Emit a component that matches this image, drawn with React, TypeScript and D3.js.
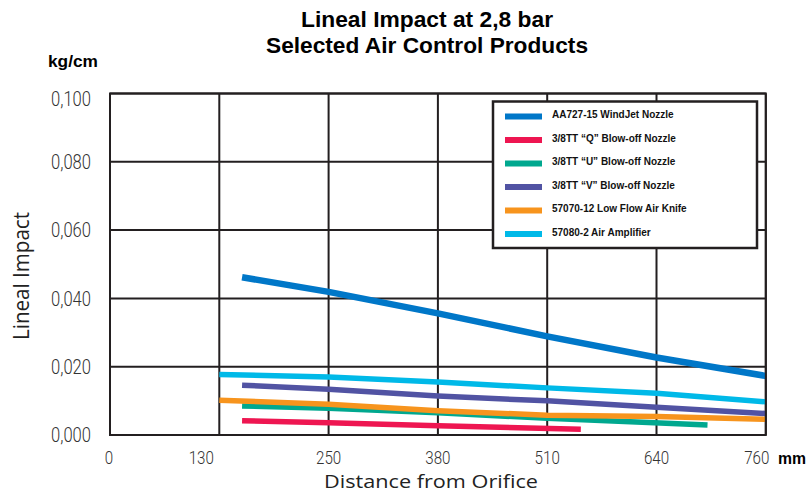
import React from "react";
import * as d3 from "d3";

const xTickValues = [0, 130, 250, 380, 510, 640, 760];
const yTickValues = [0, 0.02, 0.04, 0.06, 0.08, 0.1];

const seriesNames = [
  "AA727-15 WindJet Nozzle",
  "3/8TT \u201CQ\u201D Blow-off Nozzle",
  "3/8TT \u201CU\u201D Blow-off Nozzle",
  "3/8TT \u201CV\u201D Blow-off Nozzle",
  "57070-12 Low Flow Air Knife",
  "57080-2 Air Amplifier",
];
const seriesColors = ["#0077c8", "#ee1651", "#00a88f", "#5153a3", "#f7941d", "#00b9e8"];

const windJet: [number, number][] = [[155, 0.0462], [250, 0.0419], [380, 0.0356], [510, 0.0289], [640, 0.0227], [760, 0.0173]];
const qNozzle: [number, number][] = [[155, 0.0042], [250, 0.0036], [380, 0.0027], [550, 0.0017]];
const uNozzle: [number, number][] = [[155, 0.0085], [250, 0.0078], [380, 0.0065], [510, 0.0049], [696, 0.0029]];
const vNozzle: [number, number][] = [[155, 0.0146], [250, 0.0134], [380, 0.0114], [510, 0.0100], [640, 0.0081], [760, 0.0063]];
const airKnife: [number, number][] = [[130, 0.0102], [250, 0.0090], [380, 0.0071], [510, 0.0058], [640, 0.0054], [760, 0.0046]];
const airAmp: [number, number][] = [[130, 0.0177], [250, 0.0170], [380, 0.0155], [510, 0.0138], [640, 0.0122], [760, 0.0097]];

const seriesData = [windJet, qNozzle, uNozzle, vNozzle, airKnife, airAmp];
const drawOrder = [1, 2, 4, 3, 5, 0];

export default function App() {
  const W = 808, H = 495;
  const left = 110, right = 765.8, top = 93.5, bottom = 435;
  const step = (right - left) / (xTickValues.length - 1);
  const x = d3.scaleLinear().domain(xTickValues).range(xTickValues.map((_, i) => left + i * step));
  const y = d3.scaleLinear().domain([0, 0.1]).range([bottom, top]);
  const line = d3.line<[number, number]>().x((d) => x(d[0])).y((d) => y(d[1]));
  const fmt = (v: number) => v.toFixed(3).replace(".", ",");
  const xNudge: Record<number, number> = { 0: -1, 130: -18, 760: -9 };
  const grid = "#231f20";
  const condensed = "Roboto, 'Liberation Sans', sans-serif";

  const legX = 493, legY = 101.5, legW = 264, legH = 146.5;
  const rowY = (i: number) => 116.5 + i * 23.5;

  return (
    <svg width={W} height={H} style={{ position: "absolute", left: 0, top: 0, background: "#fff" }}>
      <rect x={0} y={0} width={W} height={H} fill="#fff" />
      <g fontFamily="'Liberation Sans', Arial, sans-serif" fontWeight="bold" fill="#000" textAnchor="middle">
        <text x={427} y={27} fontSize={22} textLength={252} lengthAdjust="spacingAndGlyphs">Lineal Impact at 2,8 bar</text>
        <text x={427} y={53} fontSize={22} textLength={322} lengthAdjust="spacingAndGlyphs">Selected Air Control Products</text>
      </g>
      <text x={48} y={66.5} fontSize={16} fontWeight="bold" fontFamily="'Liberation Sans', Arial, sans-serif" textLength={50} lengthAdjust="spacingAndGlyphs">kg/cm</text>

      {/* grid */}
      <g stroke={grid} strokeWidth={2}>
        {xTickValues.map((v) => (
          <line key={"gx" + v} x1={x(v)} x2={x(v)} y1={top} y2={bottom} />
        ))}
        {yTickValues.map((v) => (
          <line key={"gy" + v} x1={left} x2={right} y1={y(v)} y2={y(v)} />
        ))}
      </g>

      {/* series */}
      <g fill="none" strokeLinecap="butt" strokeLinejoin="round">
        {drawOrder.map((i) => (
          <path key={"s" + i} d={line(seriesData[i]) || ""} stroke={seriesColors[i]} strokeWidth={i === 0 ? 6.5 : 5.5} />
        ))}
      </g>
      <rect x={left} y={top} width={right - left} height={bottom - top} fill="none" stroke={grid} strokeWidth={2} />

      {/* y tick labels */}
      <g fontFamily={condensed} fontWeight={300} fontSize={20} fill="#333" textAnchor="end">
        {yTickValues.map((v) => (
          <text key={"yl" + v} x={91} y={y(v) + (v === 0.1 ? 5 : 0)} dy="0.36em" textLength={40} lengthAdjust="spacingAndGlyphs">{fmt(v)}</text>
        ))}
      </g>
      {/* x tick labels */}
      <g fontFamily={condensed} fontWeight={300} fontSize={17.5} fill="#333" textAnchor="middle">
        {xTickValues.map((v) => {
          const t = String(v);
          return (
            <text key={"xl" + v} x={x(v) + (xNudge[v] || 0)} y={464} textLength={t.length * 8.4} lengthAdjust="spacingAndGlyphs">{t}</text>
          );
        })}
      </g>
      <text x={778} y={464} fontSize={16} fontWeight="bold" fontFamily="'Liberation Sans', Arial, sans-serif" textLength={28} lengthAdjust="spacingAndGlyphs">mm</text>

      <text x={431} y={488} fontSize={19} fontFamily="'Open Sans', 'Noto Sans', sans-serif" fill="#222" textAnchor="middle" textLength={214} lengthAdjust="spacingAndGlyphs">Distance from Orifice</text>
      <text transform="translate(29,276) rotate(-90)" fontSize={21} fontFamily="'Open Sans', 'Noto Sans', sans-serif" fill="#222" textAnchor="middle" textLength={128} lengthAdjust="spacingAndGlyphs">Lineal Impact</text>

      {/* legend */}
      <rect x={legX} y={legY} width={legW} height={legH} fill="#fff" stroke={grid} strokeWidth={2.5} />
      {seriesNames.map((name, i) => (
        <g key={"lg" + i}>
          <rect x={505} y={rowY(i) - 3} width={37} height={6} fill={seriesColors[i]} />
          <text x={552} y={rowY(i) + 1.5} fontSize={10} fontWeight="bold" fontFamily="'Liberation Sans', Arial, sans-serif" fill="#111">{name}</text>
        </g>
      ))}
    </svg>
  );
}
